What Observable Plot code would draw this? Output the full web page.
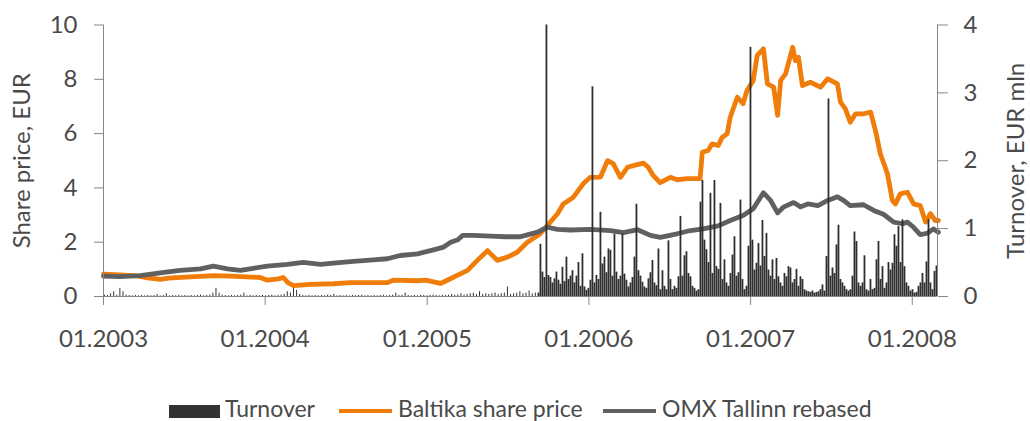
<!DOCTYPE html>
<html>
<head>
<meta charset="utf-8">
<script src="https://cdn.jsdelivr.net/npm/d3@7"></script>
<script src="https://cdn.jsdelivr.net/npm/@observablehq/plot@0.6"></script>
<style>
  html, body { margin: 0; padding: 0; background: #fff; }
  #wrap { position: relative; width: 1030px; height: 421px; overflow: hidden; font-family: Lato, sans-serif; }
  .lg { position: absolute; }
  .lgt { position: absolute; top: 397px; font-size: 23px; line-height: 23px; color: #4a4a4a; white-space: pre; }
</style>
</head>
<body>
<div id="wrap"></div>
<script>
// ---------- data ----------
const yearTicks = ["2003-01-01","2004-01-01","2005-01-01","2006-01-01","2007-01-01","2008-01-01"];
const leftTicks = [0, 2, 4, 6, 8, 10];
const rightTicks = [0, 1, 2, 3, 4];

const baltikaDates = ["2003-01-01","2003-02-08","2003-03-18","2003-04-05","2003-05-09","2003-05-27","2003-07-16","2003-09-06","2003-10-14","2003-12-21",
"2004-01-06","2004-01-31","2004-02-11","2004-02-22","2004-03-05","2004-04-12","2004-06-03","2004-07-11","2004-10-03","2004-10-16",
"2004-12-10","2004-12-28","2005-01-31","2005-03-01","2005-04-02","2005-04-24","2005-05-17","2005-06-08","2005-07-01","2005-07-23",
"2005-08-15","2005-09-13","2005-09-29","2005-10-22","2005-11-04","2005-11-27","2005-12-19","2006-01-04","2006-01-27","2006-02-12",
"2006-02-25","2006-03-13","2006-03-29","2006-04-11","2006-05-04","2006-05-15","2006-05-26","2006-06-11","2006-07-04","2006-07-19",
"2006-08-11","2006-09-09","2006-09-14","2006-09-27","2006-10-06","2006-10-20","2006-10-29","2006-11-09","2006-11-16","2006-12-02",
"2006-12-15","2006-12-24","2007-01-07","2007-01-16","2007-01-30","2007-02-08","2007-02-22","2007-03-03","2007-03-10","2007-03-21",
"2007-04-06","2007-04-12","2007-04-19","2007-04-28","2007-05-16","2007-06-08","2007-06-24","2007-07-16","2007-07-23","2007-08-03",
"2007-08-14","2007-08-26","2007-09-13","2007-09-29","2007-10-10","2007-10-21","2007-11-06","2007-11-17","2007-11-24","2007-12-05",
"2007-12-21","2008-01-04","2008-01-19","2008-01-31","2008-02-11","2008-02-22","2008-02-29"];
const baltikaPrice = [0.82,0.80,0.76,0.70,0.63,0.68,0.72,0.77,0.75,0.70,
0.60,0.65,0.70,0.50,0.40,0.45,0.47,0.51,0.51,0.60,
0.58,0.60,0.48,0.71,0.96,1.33,1.69,1.33,1.45,1.63,
2.00,2.31,2.61,3.05,3.41,3.66,4.15,4.39,4.40,5.00,
4.89,4.39,4.76,4.82,4.91,4.76,4.46,4.19,4.39,4.30,
4.34,4.34,5.31,5.38,5.62,5.56,5.87,5.99,6.60,7.34,
7.10,7.59,7.96,8.88,9.12,7.83,7.71,6.67,7.96,8.20,
9.18,8.69,8.81,7.77,7.89,7.71,8.02,7.83,7.16,6.91,
6.42,6.73,6.73,6.79,6.11,5.26,4.52,3.54,3.41,3.78,
3.84,3.41,3.35,2.74,3.05,2.80,2.80];

const omxDates = ["2003-01-01","2003-02-08","2003-03-25","2003-05-09","2003-06-23","2003-08-08","2003-09-06","2003-10-08","2003-11-06","2003-12-05",
"2004-01-06","2004-02-20","2004-03-27","2004-05-05","2004-06-03","2004-07-18","2004-09-01","2004-10-03","2004-11-01","2004-12-10",
"2005-01-15","2005-02-07","2005-02-23","2005-03-11","2005-03-22","2005-04-15","2005-05-24","2005-06-27","2005-07-30","2005-08-15",
"2005-09-07","2005-09-29","2005-10-22","2005-11-20","2006-01-04","2006-02-19","2006-03-20","2006-04-21","2006-05-20","2006-06-11",
"2006-07-19","2006-08-18","2006-09-16","2006-10-20","2006-11-16","2006-12-15","2007-01-07","2007-01-30","2007-02-15","2007-03-03",
"2007-03-16","2007-04-08","2007-04-24","2007-05-10","2007-06-02","2007-06-24","2007-07-16","2007-07-30","2007-08-14","2007-09-13",
"2007-10-06","2007-10-28","2007-11-20","2007-12-10","2007-12-21","2008-01-04","2008-01-19","2008-02-04","2008-02-18","2008-02-29"];
const omxRebased = [0.75,0.73,0.77,0.87,0.96,1.02,1.12,1.02,0.96,1.04,
1.12,1.18,1.26,1.18,1.23,1.29,1.35,1.39,1.51,1.57,
1.72,1.82,2.00,2.09,2.25,2.25,2.22,2.20,2.20,2.27,
2.37,2.55,2.47,2.45,2.47,2.43,2.35,2.46,2.25,2.18,
2.31,2.43,2.49,2.60,2.80,2.98,3.23,3.82,3.54,3.08,
3.29,3.46,3.30,3.41,3.35,3.54,3.67,3.54,3.35,3.38,
3.17,3.03,2.74,2.68,2.74,2.55,2.28,2.33,2.49,2.37];

// turnover, EUR mln: weekly values from 2003-01-03
const turnoverWeeklyStart = "2003-01-03";
const turnoverWeekly = [0.02,0.015,0.04,0.07,0.02,0.12,0.07,0.02,0.015,0.01,
0.015,0.01,0.015,0.01,0.015,0.01,0.015,0.03,0.01,0.015,
0.04,0.01,0.015,0.01,0.015,0.01,0.015,0.01,0.015,0.01,
0.015,0.02,0.01,0.015,0.02,0.05,0.12,0.05,0.02,0.015,
0.01,0.015,0.01,0.015,0.02,0.05,0.01,0.015,0.01,0.015,
0.01,0.015,0.01,0.015,0.02,0.01,0.015,0.02,0.03,0.07,
0.05,0.12,0.09,0.03,0.015,0.01,0.015,0.01,0.015,0.01,
0.015,0.01,0.02,0.015,0.03,0.01,0.015,0.01,0.015,0.01,
0.015,0.01,0.015,0.02,0.01,0.015,0.01,0.015,0.01,0.015,
0.02,0.01,0.015,0.02,0.05,0.015,0.02,0.05,0.015,0.01,
0.015,0.01,0.02,0.015,0.01,0.015,0.02,0.015,0.01,0.02,
0.015,0.02,0.03,0.02,0.025,0.04,0.02,0.03,0.04,0.05,
0.03,0.07,0.03,0.04,0.03,0.04,0.05,0.03,0.04,0.05,
0.14,0.03,0.04,0.05,0.07,0.04,0.05,0.08,0.04,0.05];
// turnover, EUR mln: values every 4.5 days from 2005-09-09
const turnoverDenseStart = "2005-09-09";
const turnoverDenseStepDays = 4.516;
const turnoverDense = [0.05,0.77,0.36,0.28,4.00,0.31,0.28,0.20,0.26,0.36,
0.24,0.18,0.43,0.22,0.58,0.25,0.30,0.38,0.20,0.30,
0.50,0.15,0.63,0.14,0.09,0.12,0.24,3.09,0.20,0.31,
0.25,1.24,0.48,0.58,0.35,0.70,0.68,0.30,0.92,0.36,
0.25,0.30,0.92,0.33,0.24,0.14,0.20,0.28,0.58,1.36,
0.38,0.30,0.21,0.14,0.12,0.26,0.35,0.53,0.20,0.16,
0.70,0.10,0.38,0.15,0.10,0.82,0.25,0.10,0.15,0.12,
0.29,1.18,0.30,0.60,0.66,0.34,0.29,0.15,0.12,0.08,
0.10,1.39,1.71,0.83,0.69,0.50,1.52,0.34,1.71,0.44,
0.40,1.37,0.25,0.54,0.20,0.15,0.34,0.61,0.88,0.30,
0.35,1.42,0.25,0.10,0.15,0.74,3.67,0.83,0.39,0.49,
0.78,0.45,1.12,0.59,0.93,0.39,0.30,0.54,0.25,0.56,
0.29,0.20,0.15,0.34,0.29,0.44,0.42,0.20,0.25,0.40,
0.15,0.29,0.25,0.10,0.08,0.07,0.06,0.08,0.05,0.06,
0.07,0.10,0.17,0.08,0.59,2.91,0.30,0.42,0.34,0.76,
1.05,0.25,0.20,0.15,0.10,0.08,0.10,0.30,0.95,0.81,
0.20,0.15,0.20,0.60,0.10,0.08,0.25,0.10,0.12,0.54,
0.81,0.25,0.44,0.12,0.20,0.50,0.39,0.49,0.91,0.74,
1.03,0.50,1.13,0.44,0.20,0.15,0.08,0.10,0.05,0.06,
0.15,0.20,0.34,0.20,0.51,1.13,0.20,0.10,0.37,0.45];

// ---------- build ----------
const parse = d3.utcParse("%Y-%m-%d");
const K = 2.5; // right axis (0..4) mapped onto left axis (0..10)
const baltika = baltikaDates.map((d, i) => ({date: parse(d), v: baltikaPrice[i]}));
const omx = omxDates.map((d, i) => ({date: parse(d), v: omxRebased[i]}));
const tw0 = parse(turnoverWeeklyStart);
const tWeekly = turnoverWeekly.map((v, j) => ({date: d3.utcDay.offset(tw0, 7 * j), v: v * K}));
const td0 = parse(turnoverDenseStart).getTime();
const tDense = turnoverDense.map((v, i) => ({date: new Date(td0 + i * turnoverDenseStepDays * 864e5), v: v * K}));
const xStart = parse("2003-01-01"), xEnd = parse("2008-02-27");

const textColor = "#4a4a4a", axisColor = "#868686";

const chart = Plot.plot({
  width: 1030,
  height: 398,
  marginLeft: 103,
  marginRight: 93,
  marginTop: 24.5,
  marginBottom: 102,
  style: {fontFamily: "Lato, sans-serif", fontSize: "24px", color: textColor, background: "#fff"},
  x: {type: "utc", domain: [xStart, xEnd]},
  y: {domain: [0, 10]},
  marks: [
    Plot.line(baltika, {x: "date", y: "v", stroke: "#F07D0A", strokeWidth: 4.8, strokeLinejoin: "round", strokeLinecap: "round"}),
    Plot.line(omx, {x: "date", y: "v", stroke: "#606060", strokeWidth: 4.8, strokeLinejoin: "round", strokeLinecap: "round"}),
    Plot.ruleX(tWeekly, {x: "date", y1: 0, y2: "v", stroke: "#333333", strokeWidth: 1}),
    Plot.ruleX(tDense, {x: "date", y1: 0, y2: "v", stroke: "#2e2e2e", strokeWidth: 1.8}),
    Plot.ruleY([0], {stroke: axisColor}),
    Plot.ruleX([xStart, xEnd], {stroke: axisColor}),
    Plot.axisY({anchor: "left", ticks: leftTicks, tickSize: 9, tickPadding: 17, fontSize: 24, label: null, stroke: axisColor, fill: textColor}),
    Plot.axisY({anchor: "right", ticks: rightTicks.map(v => v * K), tickFormat: d => String(d / K), tickSize: 10, tickPadding: 16, fontSize: 24, label: null, stroke: axisColor, fill: textColor}),
    Plot.axisX({anchor: "bottom", ticks: yearTicks.map(parse), tickFormat: d3.utcFormat("%m.%Y"), tickSize: 9, tickPadding: 24, fontSize: 24, label: null, stroke: axisColor, fill: textColor}),
    Plot.text(["Share price, EUR"], {frameAnchor: "left", textAnchor: "middle", lineAnchor: "middle", dx: -81, rotate: -90, fontSize: 24, fill: textColor}),
    Plot.text(["Turnover, EUR mln"], {frameAnchor: "right", textAnchor: "middle", lineAnchor: "middle", dx: 79, rotate: -90, fontSize: 24, fill: textColor})
  ]
});

const wrap = document.getElementById("wrap");
wrap.appendChild(chart);

// legend below the chart
const legend = [
  {kind: "rect", left: 169, width: 51, color: "#333333", label: "Turnover", tx: 225},
  {kind: "line", left: 339, width: 53, color: "#F07D0A", label: "Baltika share price", tx: 398},
  {kind: "line", left: 603, width: 53, color: "#606060", label: "OMX Tallinn rebased", tx: 662}
];
for (const item of legend) {
  const sw = document.createElement("div");
  sw.className = "lg";
  sw.style.left = item.left + "px";
  sw.style.width = item.width + "px";
  sw.style.background = item.color;
  if (item.kind === "rect") { sw.style.top = "405px"; sw.style.height = "13px"; }
  else { sw.style.top = "409px"; sw.style.height = "4px"; }
  wrap.appendChild(sw);
  const t = document.createElement("div");
  t.className = "lgt";
  t.style.left = item.tx + "px";
  t.textContent = item.label;
  wrap.appendChild(t);
}
</script>
</body>
</html>
